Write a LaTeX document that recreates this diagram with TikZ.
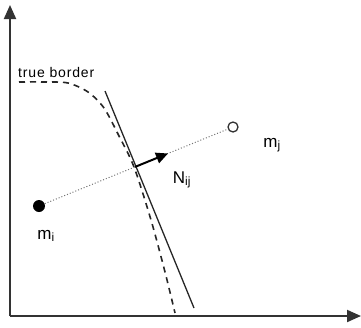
\documentclass[tikz,border=0pt]{standalone}
\usepackage{fontspec}
\setmainfont{Liberation Sans}
\usetikzlibrary{arrows.meta,calc}
\definecolor{axisgray}{HTML}{333333}
\tikzset{
  axis/.style={line width=2pt, draw=axisgray, -{Triangle[length=14pt,width=12pt]}},
  border/.style={line width=1.6pt, draw=black!85, dash pattern=on 6pt off 5pt},
  bound/.style={line width=1.3pt, draw=black!85},
  link/.style={line width=1pt, draw=black!55, dotted},
  normal/.style={line width=2pt, draw=black, -{Triangle[length=12pt,width=11pt]}},
  lab/.style={font=\fontsize{17}{19}\selectfont, inner sep=0pt},
  small/.style={font=\fontsize{14}{16}\selectfont, inner sep=0pt}
}
\begin{document}
\begin{tikzpicture}[x=1pt,y=-1pt]
\useasboundingbox (0,0) rectangle (361,327);
\coordinate (O) at (10,316);
\coordinate (ytip) at (10,5);
\coordinate (xtip) at (361,316);
\draw[axis] (O) -- (ytip);
\draw[axis] (O) -- (xtip);
% true border (dashed)
\draw[border] plot[smooth, tension=0.5] coordinates {(19,82) (45,82) (68,83) (88,92) (104,108) (119,136) (134,167) (151,220) (165,272) (175,313)};
% linear boundary
\coordinate (b1) at (105,91);
\coordinate (b2) at (194,308);
\draw[bound] (b1) -- (b2);
% points
\node[circle, fill=black, minimum size=12pt, inner sep=0pt] (mi) at (39,206) {};
\node[circle, fill=white, draw=black!80, line width=1.3pt, minimum size=10pt, inner sep=0pt] (mj) at (233,127) {};
\draw[link] (mi) -- (mj);
\coordinate (s) at ($(mi)!0.495!(mj)$);
\coordinate (t) at ($(mi)!0.665!(mj)$);
\draw[normal] (s) -- (t);
% labels
\node[small, anchor=west] (tb) at (18,72) {\addfontfeatures{LetterSpace=6}true border};
\node[lab] (lmi) at (46,236) {m\textsubscript{i}};
\node[lab] (lmj) at (272,145) {m\textsubscript{j}};
\node[lab] (lnij) at (182,180) {N\textsubscript{ij}};
\end{tikzpicture}
\end{document}
